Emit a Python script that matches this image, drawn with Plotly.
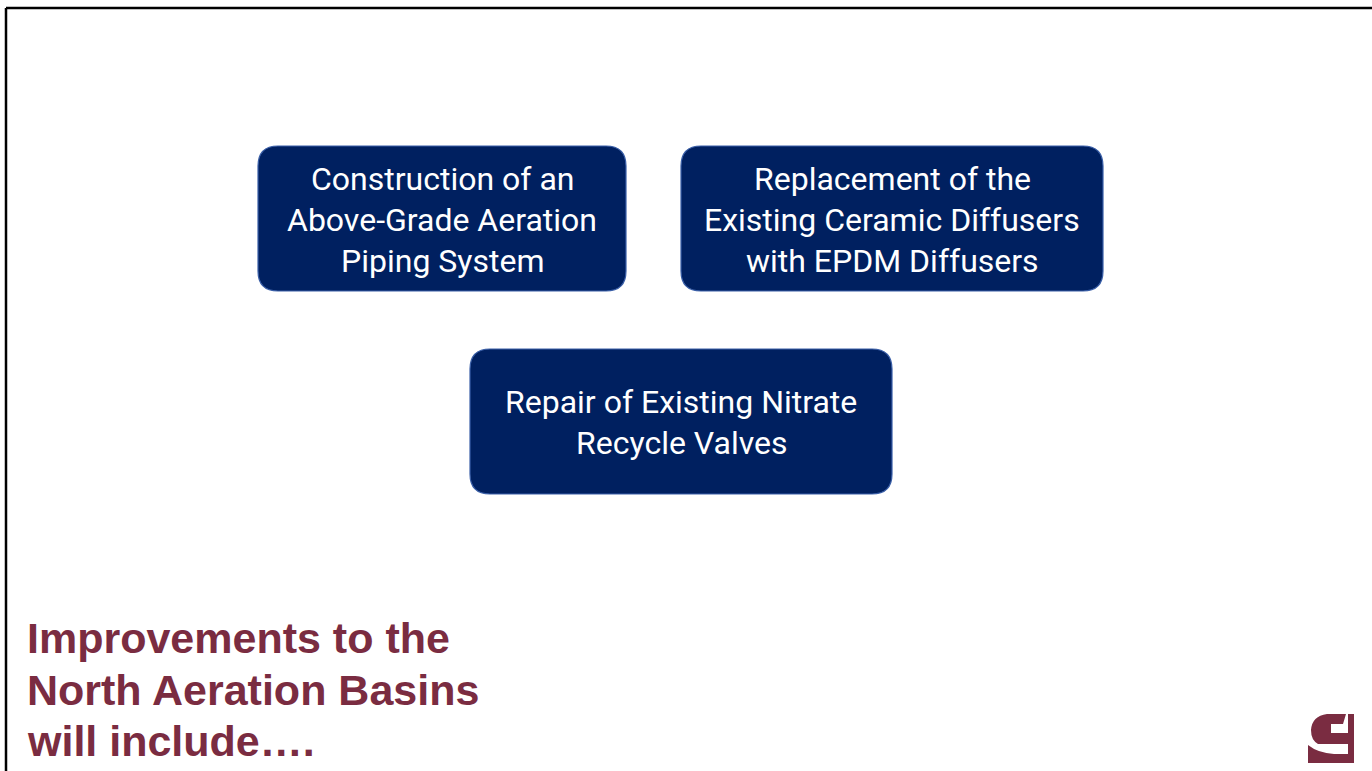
import plotly.graph_objects as go

W, H = 1372, 771

# Content
box_labels = [
    ["Construction of an", "Above-Grade Aeration", "Piping System"],
    ["Replacement of the", "Existing Ceramic Diffusers", "with EPDM Diffusers"],
    ["Repair of Existing Nitrate", "Recycle Valves"],
]
title_lines = ["Improvements to the", "North Aeration Basins", "will include…."]

# Layout (pixel geometry)
box_x0 = [258, 681, 470]
box_x1 = [626, 1103, 892]
box_y0 = [146, 146, 349]
box_y1 = [291, 291, 494]
RADIUS = 20
LINE_GAP = 41

NAVY = "#002060"
NAVY_EDGE = "#3A5FA8"
MAROON = "#7A2C41"


def rounded_path(x0, y0, x1, y1, r):
    return (f"M {x0+r},{y0} L {x1-r},{y0} Q {x1},{y0} {x1},{y0+r} "
            f"L {x1},{y1-r} Q {x1},{y1} {x1-r},{y1} "
            f"L {x0+r},{y1} Q {x0},{y1} {x0},{y1-r} "
            f"L {x0},{y0+r} Q {x0},{y0} {x0+r},{y0} Z")


fig = go.Figure()
shapes = []
annotations = []

# Slide border (top and left)
shapes.append(dict(type="line", xref="x", yref="y", x0=6, y0=8, x1=W, y1=8,
                   line=dict(color="black", width=2.5)))
shapes.append(dict(type="line", xref="x", yref="y", x0=6, y0=8, x1=6, y1=H,
                   line=dict(color="black", width=2.5)))

for lines, x0, x1, y0, y1 in zip(box_labels, box_x0, box_x1, box_y0, box_y1):
    shapes.append(dict(type="path", xref="x", yref="y",
                       path=rounded_path(x0, y0, x1, y1, RADIUS),
                       fillcolor=NAVY, line=dict(color=NAVY_EDGE, width=1.2)))
    cx = (x0 + x1) / 2
    cy = (y0 + y1) / 2
    n = len(lines)
    for i, t in enumerate(lines):
        yy = cy + (i - (n - 1) / 2) * LINE_GAP + 1
        annotations.append(dict(x=cx, y=yy, xref="x", yref="y", text=t,
                                showarrow=False, xanchor="center", yanchor="middle",
                                font=dict(family="Roboto", size=32, color="white")))

# Title text (bottom-left)
title_y = [638, 690, 741]
for t, yy in zip(title_lines, title_y):
    annotations.append(dict(x=25, y=yy, xref="x", yref="y", text=f"<b>{t}</b>",
                            showarrow=False, xanchor="left", yanchor="middle",
                            font=dict(family="Liberation Sans", size=43, color=MAROON)))

# Logo (bottom-right)
logo_shapes = [
    # G body
    "M 1346,714 L 1327,714 Q 1312,716 1311,730 Q 1311,740 1318,744 L 1348,744 "
    "L 1348,733 L 1331,733 L 1331,724 L 1343,724 Z",
    # vertical bar
    "M 1348,714 L 1354,714 L 1354,763 L 1348,763 Z",
    # base
    "M 1308,745 Q 1318,753 1334,754 L 1348,754 L 1348,763 L 1308,763 Z",
]
for p in logo_shapes:
    shapes.append(dict(type="path", xref="x", yref="y", path=p,
                       fillcolor=MAROON, line=dict(width=0)))

fig.update_layout(
    width=W, height=H,
    margin=dict(l=0, r=0, t=0, b=0),
    paper_bgcolor="white", plot_bgcolor="white",
    xaxis=dict(range=[0, W], visible=False, fixedrange=True),
    yaxis=dict(range=[H, 0], visible=False, fixedrange=True),
    shapes=shapes, annotations=annotations, showlegend=False,
)

fig.write_html("out.html", config={"displayModeBar": False},
               post_script="document.body.style.margin='0px';")
